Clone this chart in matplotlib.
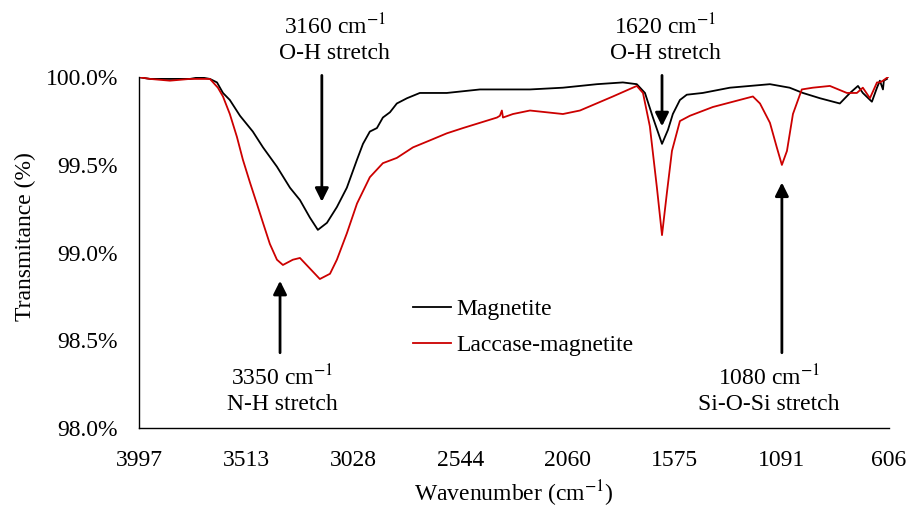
import matplotlib
matplotlib.use('Agg')
import matplotlib.pyplot as plt
from matplotlib.ticker import FuncFormatter

plt.rcParams['font.family'] = ['Liberation Serif', 'DejaVu Serif']
plt.rcParams['mathtext.fontset'] = 'stix'

# FTIR spectra (wavenumber in cm-1, transmittance in %)
wn_magnetite = [3997, 3947, 3857, 3766, 3721, 3676, 3644, 3617, 3586, 3540,
                3482, 3436, 3373, 3314, 3269, 3224, 3188, 3147, 3102, 3057,
                3011, 2984, 2953, 2921, 2894, 2862, 2831, 2785, 2727, 2605,
                2455, 2229, 2080, 1926, 1809, 1746, 1709, 1673, 1632, 1605,
                1583, 1551, 1520, 1448, 1325, 1144, 1055, 995, 918, 828,
                782, 746, 724, 683, 660, 647, 633, 629, 615]
t_magnetite = [100.00, 99.99, 99.99, 99.99, 100.00, 99.99, 99.97, 99.91, 99.87, 99.78,
               99.69, 99.60, 99.49, 99.37, 99.30, 99.20, 99.13, 99.17, 99.26, 99.37,
               99.53, 99.62, 99.69, 99.71, 99.77, 99.80, 99.85, 99.88, 99.91, 99.91,
               99.93, 99.93, 99.94, 99.96, 99.97, 99.96, 99.91, 99.77, 99.62, 99.70,
               99.79, 99.87, 99.90, 99.91, 99.94, 99.96, 99.94, 99.91, 99.88, 99.85,
               99.91, 99.95, 99.91, 99.86, 99.94, 99.98, 99.93, 99.98, 99.99]

wn_laccase = [3997, 3947, 3857, 3766, 3721, 3676, 3640, 3617, 3586, 3554,
              3527, 3495, 3464, 3436, 3405, 3373, 3346, 3301, 3269, 3224,
              3179, 3133, 3102, 3057, 3011, 2953, 2894, 2831, 2758, 2681,
              2605, 2532, 2455, 2378, 2365, 2356, 2351, 2306, 2229, 2080,
              2003, 1854, 1746, 1718, 1687, 1655, 1632, 1610, 1587, 1551,
              1506, 1402, 1221, 1189, 1144, 1113, 1090, 1067, 1040, 1000,
              950, 873, 796, 751, 724, 692, 660, 647, 633, 611]
t_laccase = [100.00, 99.99, 99.98, 99.99, 99.99, 99.99, 99.94, 99.89, 99.79, 99.66,
             99.53, 99.40, 99.28, 99.17, 99.05, 98.96, 98.93, 98.96, 98.97, 98.91,
             98.85, 98.88, 98.96, 99.11, 99.28, 99.43, 99.51, 99.54, 99.60, 99.64,
             99.68, 99.71, 99.74, 99.77, 99.78, 99.81, 99.77, 99.79, 99.81, 99.79,
             99.81, 99.89, 99.95, 99.91, 99.72, 99.37, 99.10, 99.34, 99.58, 99.75,
             99.78, 99.83, 99.89, 99.85, 99.74, 99.60, 99.50, 99.58, 99.79, 99.93,
             99.94, 99.95, 99.91, 99.91, 99.94, 99.88, 99.97, 99.97, 99.98, 100.00]

x_ticks = [3997, 3513, 3028, 2544, 2060, 1575, 1091, 606]
y_ticks = [98.0, 98.5, 99.0, 99.5, 100.0]

fig = plt.figure(figsize=(9.08, 5.11), dpi=100)
ax = fig.add_axes([0.153, 0.162, 0.826, 0.687])

ax.plot(wn_magnetite, t_magnetite, color='black', lw=1.3, label='Magnetite')
ax.plot(wn_laccase, t_laccase, color='#cc0000', lw=1.3, label='Laccase-magnetite')

ax.set_xlim(3997, 606)
ax.set_ylim(98.0, 100.0)
ax.set_xticks(x_ticks)
ax.set_xticklabels([str(t) for t in x_ticks])
ax.set_yticks(y_ticks)
ax.yaxis.set_major_formatter(FuncFormatter(lambda v, p: f'{v:.1f}%'))
ax.tick_params(length=0, labelsize=17)
ax.tick_params(axis='x', pad=16)
ax.tick_params(axis='y', pad=15)

for s in ['top', 'right']:
    ax.spines[s].set_visible(False)
for s in ['left', 'bottom']:
    ax.spines[s].set_linewidth(1.0)

ax.set_xlabel('Wavenumber (cm$^{-1}$)', fontsize=17, labelpad=5)
fig.text(0.028, 1 - 237 / 511, 'Transmitance (%)', rotation=90,
         fontsize=17, ha='center', va='center')

ax.legend(loc='upper left', bbox_to_anchor=(0.366, 0.37), frameon=False,
          fontsize=17, handlelength=1.6, handletextpad=0.2,
          labelspacing=0.62, borderpad=0, borderaxespad=0)

# peak arrows: (tip x, tip y, tail y)
arrow_kw = dict(arrowstyle='-|>', lw=2, color='black', mutation_scale=20,
                shrinkA=0, shrinkB=0)
arrows = [(3170, 99.29, 100.01), (1632, 99.72, 100.01),
          (3359, 98.84, 98.43), (1090, 99.40, 98.43)]
for x, tip, tail in arrows:
    ax.annotate('', xy=(x, tip), xytext=(x, tail), arrowprops=arrow_kw,
                annotation_clip=False)

# peak labels
labels = [(3111, 100.22, '3160 cm$^{-1}$\nO-H stretch'),
          (1618, 100.22, '1620 cm$^{-1}$\nO-H stretch'),
          (3350, 98.22, '3350 cm$^{-1}$\nN-H stretch'),
          (1149, 98.22, '1080 cm$^{-1}$\nSi-O-Si stretch')]
for x, y, s in labels:
    ax.text(x, y, s, fontsize=17, ha='center', va='center',
            linespacing=1.25, clip_on=False)

fig.savefig('out.png', dpi=100)
